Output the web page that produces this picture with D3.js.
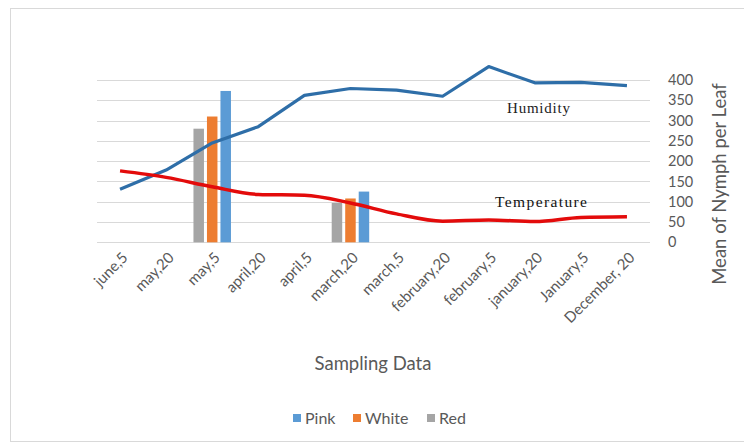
<!DOCTYPE html>
<html><head><meta charset="utf-8">
<script src="https://cdn.jsdelivr.net/npm/d3@7"></script>
<style>body{margin:0;background:#fff}svg{display:block}</style>
</head><body>
<script>
const categories = ["june,5","may,20","may,5","april,20","april,5","march,20","march,5","february,20","february,5","january,20","January,5","December, 20"];
const pink  = [null,null,373,null,null,125,null,null,null,null,null,null];
const white = [null,null,310,null,null,108,null,null,null,null,null,null];
const red   = [null,null,280,null,null,97,null,null,null,null,null,null];
const humidity    = [131,178,245,285,362,379,375,360,433,393,394,386];
const temperature = [176,160,137,118,116,97,70,52,55,51,61,63];
const yTicks = [0,50,100,150,200,250,300,350,400];
const barSeries = [
  {name:"Red", values:red, color:"#a5a5a5"},
  {name:"White", values:white, color:"#ed7d31"},
  {name:"Pink", values:pink, color:"#5b9bd5"}
];
const legendOrder = ["Pink","White","Red"];

const W=744,H=444;
const svg=d3.select("body").append("svg").attr("width",W).attr("height",H);
svg.append("rect").attr("x",10.5).attr("y",8.5).attr("width",W).attr("height",433)
  .attr("fill","#fff").attr("stroke","#d9d9d9");

const x=d3.scaleBand().domain(categories).range([97,650]);
const y=d3.scaleLinear().domain([0,400]).range([242.3,80]);
const inner=d3.scaleBand().domain(barSeries.map(s=>s.name)).range([-18.75,18.75]).paddingInner(0.222);
const txt="#595959", font="Lato, 'Open Sans', sans-serif";

// gridlines
svg.append("g").selectAll("line").data(yTicks).join("line")
  .attr("x1",97).attr("x2",650).attr("y1",d=>Math.round(y(d))+0.5).attr("y2",d=>Math.round(y(d))+0.5)
  .attr("stroke","#d9d9d9").attr("stroke-width",1.2);

// y axis labels (right)
const yAxis=d3.axisRight(y).tickValues(yTicks).tickSize(0).tickPadding(0);
const gy=svg.append("g").attr("transform","translate(668,0)").call(yAxis);
gy.select(".domain").remove();
gy.selectAll("text").attr("fill",txt).style("font-family",font).style("font-size","14.5px");

// bars
barSeries.forEach(s=>{
  svg.append("g").selectAll("rect").data(categories.map((c,i)=>({c,v:s.values[i]})).filter(d=>d.v!=null))
    .join("rect")
    .attr("x",d=>x(d.c)+x.bandwidth()/2+inner(s.name))
    .attr("width",inner.bandwidth())
    .attr("y",d=>y(d.v)).attr("height",d=>y(0)-y(d.v))
    .attr("fill",s.color);
});

// lines
const cx=(d,i)=>x(categories[i])+x.bandwidth()/2;
const lineH=d3.line().x(cx).y(d=>y(d)).curve(d3.curveLinear);
const lineT=d3.line().x(cx).y(d=>y(d)).curve(d3.curveMonotoneX);
svg.append("path").datum(humidity).attr("d",lineH).attr("fill","none").attr("stroke","#2e6ea8").attr("stroke-width",3.2).attr("stroke-linejoin","round");
svg.append("path").datum(temperature).attr("d",lineT).attr("fill","none").attr("stroke","#e30b0b").attr("stroke-width",3.5).attr("stroke-linejoin","round");

// line labels
svg.append("text").attr("x",507).attr("y",113).text("Humidity")
  .attr("textLength",63).attr("lengthAdjust","spacing")
  .style("font-family","'Liberation Serif','Times New Roman',serif").style("font-size","15px").attr("fill","#222");
svg.append("text").attr("x",495).attr("y",207).text("Temperature")
  .attr("textLength",92).attr("lengthAdjust","spacing")
  .style("font-family","'Liberation Serif','Times New Roman',serif").style("font-size","15.5px").attr("fill","#111");

// x labels
svg.append("g").selectAll("text").data(categories).join("text")
  .attr("transform",d=>`translate(${x(d)+x.bandwidth()/2+5},${255}) rotate(-45)`)
  .attr("text-anchor","end").attr("dy","0.35em")
  .text(d=>d).attr("fill",txt).style("font-family",font).style("font-size","15px");

// axis titles
svg.append("text").attr("x",373).attr("y",370).attr("text-anchor","middle").text("Sampling Data")
  .attr("fill",txt).style("font-family",font).style("font-size","18.5px");
svg.append("text").attr("transform","translate(720,184) rotate(-90)").attr("text-anchor","middle").attr("dy","0.35em")
  .text("Mean of Nymph per Leaf").attr("fill",txt).style("font-family",font).style("font-size","18.5px");

// legend
const lx=[293,353,427];
const lg=svg.append("g").selectAll("g").data(legendOrder).join("g")
  .attr("transform",(d,i)=>`translate(${lx[i]},418)`);
lg.append("rect").attr("x",0).attr("y",-4).attr("width",8).attr("height",8)
  .attr("fill",d=>barSeries.find(s=>s.name===d).color);
lg.append("text").attr("x",12).attr("dy","0.35em").text(d=>d)
  .attr("fill",txt).style("font-family",font).style("font-size","16px");
</script>
</body></html>
